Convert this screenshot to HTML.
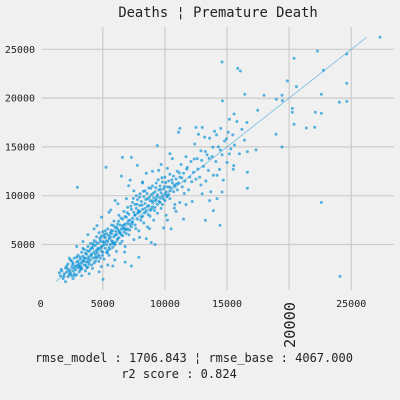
<!DOCTYPE html>
<html><head><meta charset="utf-8"><style>
html,body{margin:0;padding:0;background:#f0f0f0;}
svg{display:block;font-family:"DejaVu Sans Mono","Liberation Mono",monospace;}
</style></head><body>
<svg id="chart" width="400" height="400" viewBox="0 0 400 400">
<rect width="400" height="400" fill="#f0f0f0"/>
<text x="218" y="17" font-size="13.8" text-anchor="middle" fill="#222">Deaths ¦ Premature Death</text>
<g id="grid"></g>
<g id="ticks"></g>
<line id="fitline" stroke="#008fd5" stroke-width="0.7" opacity="0.6"/>
<g id="points"></g>
<text x="194" y="362" font-size="12" text-anchor="middle" fill="#222">rmse_model : 1706.843 ¦ rmse_base : 4067.000</text>
<text x="179" y="378" font-size="12" text-anchor="middle" fill="#222">r2 score : 0.824</text>
</svg>
<script>
const xTicks=[0,5000,10000,15000,20000,25000];
const yTicks=[5000,10000,15000,20000,25000];
const lineEnds=[1200,26200];
const outliers=[[27320,26230],[22280,24830],[24640,24520],[20400,24080],[14600,23700],[15860,23050],[16080,22780],[22760,22850],[19860,21760],[24640,21520],[20590,21170],[16430,20390],[17980,20290],[19430,20290],[22600,20390],[18970,19880],[19460,19740],[14630,19710],[24640,19670],[24050,19570],[20260,18950],[20260,18550],[22110,18550],[22600,18440],[15570,18370],[15190,17830],[17470,18750],[20400,17320],[22060,17010],[21390,16940],[18950,16290],[19430,14990],[17340,14690],[16640,14520],[16640,12400],[16640,10760],[22600,9320],[24100,1740],[2950,10860],[9390,15130],[5260,12910],[6580,13930],[7300,13930],[7780,13110],[13900,8470],[14440,6970],[13260,7480],[5020,1430],[14600,10380],[15540,13080],[15190,14280]];
const cluster=[[1500,2100],[1600,1800],[1700,2300],[1800,1500],[1900,2000],[2000,2600],[2000,1200],[2100,2200],[2200,3000],[2200,1700],[2300,2400],[2400,2000],[2400,3400],[2500,2700],[2500,1800],[2600,3100],[2600,2300],[2700,2000],[2700,3600],[2800,2800],[2800,2400],[2900,3200],[2900,1900],[3000,2600],[3000,3900],[3100,3000],[3100,2200],[3200,3500],[3200,2800],[3300,4200],[3300,2500],[3400,3300],[3400,3800],[3500,2900],[3500,4500],[3600,3600],[3600,2300],[3700,4000],[3700,3200],[3800,4800],[3800,2700],[3900,3700],[3900,4300],[4000,3400],[4000,5100],[4100,4000],[4100,2900],[4200,4600],[4200,3600],[4300,5400],[4300,4200],[4400,3300],[4400,4900],[4500,4400],[4500,5800],[4600,3800],[4600,5100],[4700,4500],[4700,6200],[4800,3600],[4800,5300],[4900,4800],[4900,5900],[5000,4200],[5000,6300],[5100,5200],[5100,3500],[5200,5700],[5200,4600],[5300,6100],[5300,5000],[5400,4400],[5400,6600],[5500,5600],[5500,3900],[5600,6200],[5600,5000],[5700,7000],[5700,5400],[5800,4700],[5800,6400],[5900,5800],[5900,7400],[6000,5200],[6000,6700],[6100,6000],[6100,4300],[6200,7100],[6200,5600],[6300,6400],[6300,8000],[6400,5100],[6400,7000],[6500,6600],[6500,12000],[6600,7600],[6600,5900],[6700,8400],[6700,6300],[6800,7100],[6800,4800],[6900,7800],[6900,6500],[7000,8800],[7000,7200],[7100,6000],[7100,8100],[7200,7500],[7200,11600],[7300,8600],[7300,6800],[7400,9300],[7400,7700],[7500,5500],[7500,8300],[7600,9100],[7600,7000],[7700,8700],[7700,10000],[7800,7600],[7800,9600],[7900,8300],[7900,6400],[8000,9000],[8000,10200],[8100,7800],[8100,9400],[8200,8600],[8200,11300],[8300,9900],[8300,7200],[8400,9200],[8400,10500],[8500,8400],[8500,12300],[8600,9700],[8600,6800],[8700,9000],[8700,10800],[8800,9500],[8800,7900],[8900,10100],[8900,8600],[9000,11000],[9000,9300],[9100,9800],[9100,7500],[9200,10400],[9200,8800],[9300,11300],[9300,9600],[9400,10100],[9400,8200],[9500,10600],[9500,12600],[9600,9800],[9600,11000],[9700,10300],[9700,8700],[9800,11400],[9800,10000],[9900,6700],[9900,10700],[10000,9500],[10000,11900],[10100,10400],[10100,8000],[10200,10900],[10200,12800],[10300,10100],[10300,11500],[10400,9700],[10400,12200],[10500,10800],[10500,6600],[10600,11300],[10600,13800],[10700,10400],[10700,12000],[10800,9100],[10800,11100],[10900,11700],[11000,10600],[11000,12500],[11100,11300],[11200,9300],[11200,11900],[11300,13200],[11400,10900],[11500,12300],[11500,7600],[11600,11500],[11700,14000],[11800,12900],[11900,10600],[12000,11900],[12100,13500],[12200,9400],[12300,12400],[12400,15300],[12500,11700],[12600,13800],[12700,16300],[12800,11900],[12900,14600],[13000,10200],[13100,13000],[13200,16000],[13300,11500],[13400,14200],[13500,12600],[13600,15900],[13700,10400],[13800,14000],[13900,12100],[14000,16600],[14100,13500],[14200,9700],[14300,15000],[14400,12700],[14500,16900],[14600,14200],[14700,11600],[14800,15600],[15000,13400],[15100,16500],[15300,14800],[15500,12700],[15600,15200],[15800,17600],[16000,14300],[16200,16800],[16400,15700],[16600,17500],[11100,16500],[11200,16900],[12500,17000],[13000,17000],[14200,12100],[12900,11100],[13600,9500],[11700,9100],[10900,8400],[8500,5600],[9200,5000],[7900,3700],[7300,2800],[6800,3200],[5800,2800],[5400,2900],[4700,2200],[3900,2000],[3300,1800],[2600,1500],[8900,5200],[10200,7500],[6000,9500],[5500,8300],[4900,7800],[4300,6600],[3800,6000],[3400,5300],[2900,4800],[2300,3600],[6900,9700],[7500,10500],[8200,11400],[9000,12500],[9700,13200],[10400,14300],[2100,2800],[2300,1900],[2500,3300],[2700,2600],[2900,3700],[3100,2700],[3300,3100],[3500,3300],[3700,2600],[3900,3000],[4100,4700],[4300,3100],[4500,3600],[4700,3900],[4900,4300],[5100,5800],[5300,4200],[5500,4700],[5700,6100],[5900,5100],[6100,6800],[6300,5700],[6500,6000],[6700,7000],[3000,3300],[3200,2400],[3400,4600],[3600,4100],[3800,3500],[4000,4500],[4200,5100],[4400,4000],[4600,4600],[4800,5700],[5000,5300],[5200,6400],[5400,5300],[5600,5800],[5800,5300],[6000,6000],[6200,6600],[6400,6200],[6600,6900],[6800,6600],[7000,6600],[7200,7000],[7400,7300],[7600,8000],[7800,8200],[8000,8400],[8200,7900],[8400,8700],[8600,8900],[8800,8500],[9000,8800],[9200,9500],[9400,9100],[9600,9300],[9800,9100],[10000,10200],[10200,10000],[10400,10500]];
const cluster2=[[1650,2450],[1870,1730],[2140,2530],[2360,2170],[2580,2940],[2730,1780],[2960,2840],[3160,3720],[3270,2630],[3480,3610],[3630,2880],[3740,4370],[3850,3220],[4060,3870],[4170,2560],[4250,4920],[4380,3700],[4460,5260],[4560,4180],[4680,3270],[4770,5540],[4860,4640],[4970,3880],[5060,4910],[5140,6030],[5260,5380],[5370,4150],[5460,5920],[5580,4530],[5670,6450],[5760,5090],[5860,6930],[5970,4960],[6060,6350],[6160,5430],[6270,7380],[6360,6170],[6460,7720],[6560,5330],[6660,6640],[6780,7860],[6870,6130],[6960,8260],[7060,7450],[7160,6470],[7260,8920],[7360,7140],[7460,9720],[7570,8020],[7660,6630],[7760,9130],[7860,8480],[7960,9860],[8060,7480],[8160,9030],[8260,10460],[8360,8230],[8460,9610],[8560,10230],[8660,8060],[8760,9840],[8860,10760],[8960,9480],[9060,10240],[9160,8480],[9260,10830],[9360,9880],[9460,11640],[9560,9380],[9660,10640],[9760,11840],[9860,9680],[9960,10930],[10060,11340],[10160,9880],[10360,10880],[10560,11620],[10760,10980],[10960,11230],[11160,12340],[11360,11830],[11560,10230],[11760,12720],[12160,11430],[12360,13760],[12660,12730],[12960,13620],[13260,14530],[13560,13830],[13860,14980],[14160,16230],[14460,14680],[14960,15830],[15460,16230],[5640,8540],[6220,9180],[7080,11020],[4540,6940],[7960,5730],[8760,6630],[10760,8730],[6760,4220],[5960,3430],[4880,2730]];

const NS="http://www.w3.org/2000/svg";
const X0=40.7,XS=0.01242,Y0=293.3,YS=0.00976;
const PL=42,PR=394,PT=27,PB=290;
function sx(v){return X0+v*XS;}
function sy(v){return Y0-v*YS;}
const grid=document.getElementById('grid');
const ticks=document.getElementById('ticks');
xTicks.forEach(function(t){
  const x=sx(t);
  if(t>0){
    const l=document.createElementNS(NS,'line');
    l.setAttribute('x1',x);l.setAttribute('x2',x);l.setAttribute('y1',PT);l.setAttribute('y2',PB);
    l.setAttribute('stroke','#cbcbcb');l.setAttribute('stroke-width','1.2');
    
    
    grid.appendChild(l);
  }
  const tx=document.createElementNS(NS,'text');
  tx.textContent=String(t);
  tx.setAttribute('fill','#222');
  if(t===20000){
    tx.setAttribute('font-size','15.3');
    tx.setAttribute('text-anchor','middle');
    tx.setAttribute('transform','translate('+(x+6)+',325) rotate(-90)');
  }else{
    tx.setAttribute('font-size','10');
    tx.setAttribute('text-anchor','middle');
    tx.setAttribute('x',x);tx.setAttribute('y',307);
  }
  
  
  ticks.appendChild(tx);
});
yTicks.forEach(function(t){
  const y=sy(t);
  const l=document.createElementNS(NS,'line');
  l.setAttribute('x1',PL);l.setAttribute('x2',PR);l.setAttribute('y1',y);l.setAttribute('y2',y);
  l.setAttribute('stroke','#cbcbcb');l.setAttribute('stroke-width','1.2');
  
  
  grid.appendChild(l);
  const tx=document.createElementNS(NS,'text');
  tx.textContent=String(t);
  tx.setAttribute('fill','#222');
  tx.setAttribute('font-size','10');
  tx.setAttribute('text-anchor','end');
  tx.setAttribute('x',35);tx.setAttribute('y',y+3.5);
  
  
  ticks.appendChild(tx);
});
const fl=document.getElementById('fitline');
fl.setAttribute('x1',sx(lineEnds[0]));fl.setAttribute('y1',sy(lineEnds[0]));
fl.setAttribute('x2',sx(lineEnds[1]));fl.setAttribute('y2',sy(lineEnds[1]));
const pts=document.getElementById('points');
cluster.concat(cluster2,outliers).forEach(function(p){
  const c=document.createElementNS(NS,'circle');
  c.setAttribute('cx',sx(p[0]));c.setAttribute('cy',sy(p[1]));
  c.setAttribute('r','1.5');
  c.setAttribute('fill','#008fd5');c.setAttribute('fill-opacity','0.65');
  
  
  pts.appendChild(c);
});
</script>
</body></html>
